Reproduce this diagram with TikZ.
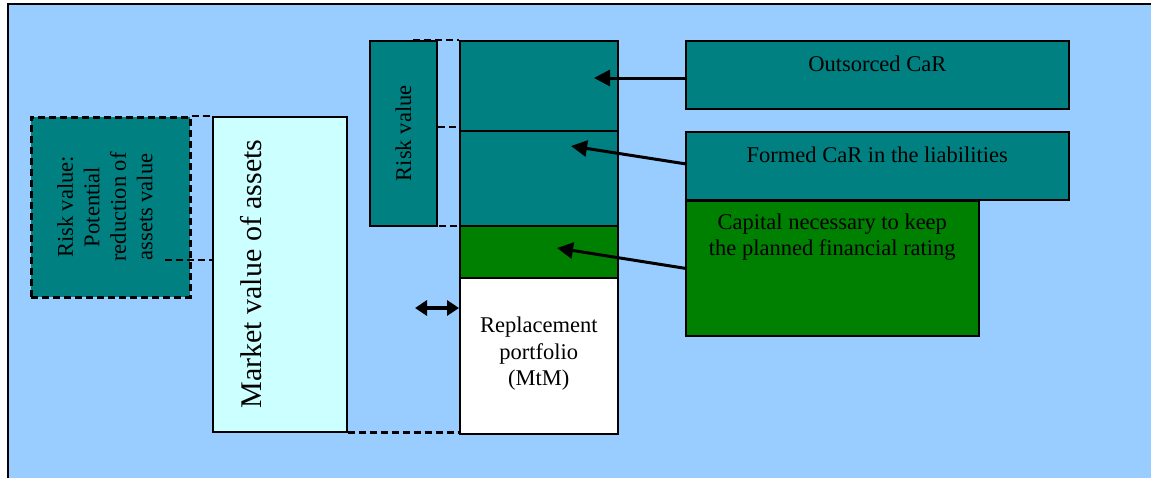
\documentclass[tikz,border=0pt]{standalone}
\usepackage{fontspec}
\setmainfont{Liberation Serif}
\usetikzlibrary{arrows.meta}
\definecolor{bgblue}{HTML}{99CCFF}
\definecolor{tealc}{HTML}{008080}
\definecolor{dgreen}{HTML}{008000}
\definecolor{lcyan}{HTML}{CCFFFF}
\begin{document}
\begin{tikzpicture}[x=1pt,y=-1pt,
  box/.style={draw=black,line width=1.6pt,inner sep=0pt,anchor=north west},
  lbl/.style={font=\fontsize{22.5}{26.5}\selectfont,align=center,inner sep=0pt},
  dsh/.style={line width=2.6pt,dash pattern=on 7pt off 4pt},
  arr/.style={line width=3pt,-{Triangle[length=16pt,width=16pt]}},
  dbl/.style={line width=3.4pt,{Triangle[length=12pt,width=15pt]}-{Triangle[length=12pt,width=15pt]}}
]
\useasboundingbox (0,0) rectangle (1151,477);
\begin{scope}
  \clip (0,0) rectangle (1151,477);
  \fill[bgblue] (8,4) rectangle (1170,490);
  \draw[line width=1.6pt] (8,490) -- (8,4) -- (1170,4);
\end{scope}

% left dashed box
\node[box,fill=tealc,dsh,minimum width=159pt,minimum height=180pt] (rv) at (30,116) {};
\node[lbl,rotate=90] (rvt) at (105,207) {Risk value:\\Potential\\reduction of\\assets value};

% market value
\node[box,fill=lcyan,minimum width=134pt,minimum height=315pt] (mkt) at (212,116) {};
\node[lbl,font=\fontsize{30}{36}\selectfont,rotate=90] (mktt) at (251,274) {Market value of assets};

% risk value box
\node[box,fill=tealc,minimum width=67pt,minimum height=185pt] (risk) at (369,40) {};
\node[lbl,rotate=90] (riskt) at (risk.center) {Risk value};

% stack
\node[box,fill=tealc,minimum width=158pt,minimum height=90pt] (s1) at (459,40) {};
\node[box,fill=tealc,minimum width=158pt,minimum height=95pt] (s2) at (459,130) {};
\node[box,fill=dgreen,minimum width=158pt,minimum height=52pt] (s3) at (459,225) {};
\node[box,fill=white,minimum width=158pt,minimum height=156pt] (rep) at (459,277) {};
\node[lbl] (rept) at ([yshift=2pt]rep.center) {Replacement\\portfolio\\(MtM)};

% right boxes
\node[box,fill=tealc,minimum width=383pt,minimum height=68pt] (out) at (685,40) {};
\node[lbl] (outt) at ([yshift=-24pt]out.north) {Outsorced CaR};
\node[box,fill=dgreen,minimum width=293pt,minimum height=135pt] (cap) at (685,200) {};
\node[lbl] (capt) at ([yshift=-37pt]cap.north) {Capital necessary to keep\\the planned financial rating};
\node[box,fill=tealc,minimum width=383pt,minimum height=68pt] (form) at (685,131) {};
\node[lbl] (formt) at ([yshift=-24pt]form.north) {Formed CaR in the liabilities};

% dashed connectors
\coordinate (d1) at (165,260);
\coordinate (d2) at (413,40);
\coordinate (d3) at (438,127);
\coordinate (d4) at (417,226);
\draw[dsh] (rv.north east) -- (mkt.north west);
\draw[dsh] (d1) -- (d1 -| mkt.west);
\draw[dsh] (mkt.south east) -- (mkt.south east -| rep.west);
\draw[dsh] (d2) -- (s1.north west);
\draw[dsh] (d3) -- (d3 -| s1.west);
\draw[dsh] (d4) -- (d4 -| s1.west);

% arrows
\coordinate (t1) at (594,78);
\coordinate (t2) at (571,146);
\coordinate (t3) at (557,248);
\draw[arr] (out.west |- t1) -- (t1);
\draw[arr] ([yshift=2pt]form.west) -- (t2);
\draw[arr] (cap.west) -- (t3);
\coordinate (dl) at (415,308);
\draw[dbl] (dl) -- (dl -| rep.west);
\end{tikzpicture}
\end{document}
